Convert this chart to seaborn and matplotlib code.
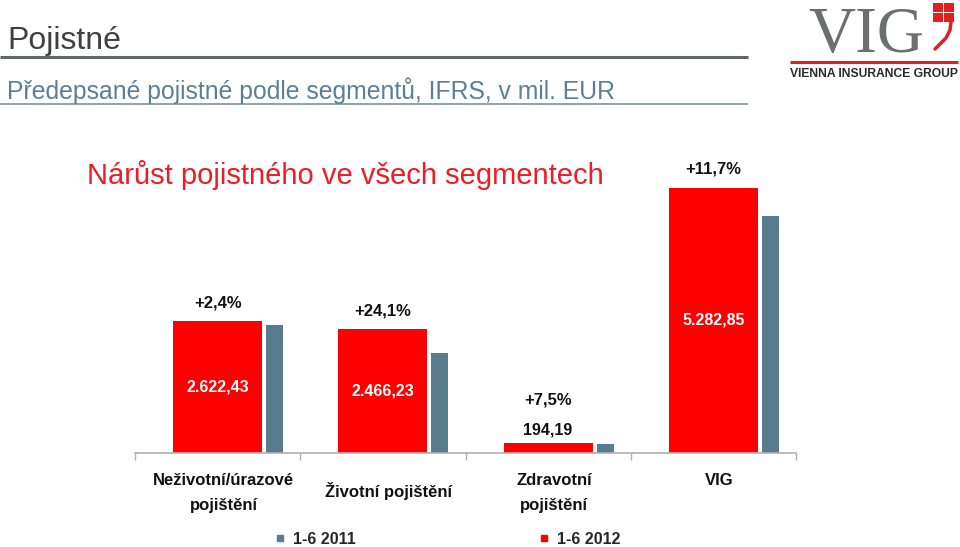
import matplotlib
matplotlib.use("Agg")
import matplotlib.pyplot as plt
from matplotlib.patches import Rectangle
from matplotlib.lines import Line2D
import numpy as np
import pandas as pd
import seaborn as sns

# ---- data ----
categories = ["Neživotní/úrazové\npojištění", "Životní pojištění", "Zdravotní\npojištění", "VIG"]
values_2012 = [2622.43, 2466.23, 194.19, 5282.85]
values_2011 = [2561.0, 1987.0, 180.6, 4729.0]
growth_labels = ["+2,4%", "+24,1%", "+7,5%", "+11,7%"]
series_labels = ["1-6 2011", "1-6 2012"]

RED = "#ff0000"
GRAY = "#587c8d"

sns.set_theme(style="white")
plt.rcParams["font.family"] = ["Liberation Sans", "DejaVu Sans"]

fig = plt.figure(figsize=(9.6, 5.47), dpi=100)
W, H = 960, 547

# header overlay (pixel coordinates)
ov = fig.add_axes([0, 0, 1, 1])
ov.set_xlim(0, W)
ov.set_ylim(H, 0)
ov.axis("off")

ax = fig.add_axes([135 / W, (H - 453) / H, 661 / W, 296 / H])
ax.patch.set_alpha(0)

df = pd.DataFrame({"cat": categories, "v": values_2012})
sns.barplot(data=df, x="cat", y="v", color=RED, width=0.54, ax=ax,
            saturation=1, linewidth=0)
x = np.arange(len(categories))
ax.bar(x + 0.345, values_2011, width=0.103, color=GRAY, linewidth=0)

ax.set_xlim(-0.5, len(categories) - 0.5)
ax.set_ylim(0, 5900)
ax.set_xlabel("")
ax.set_ylabel("")
ax.set_yticks([])
ax.set_xticks(np.arange(-0.5, len(categories), 1.0))
ax.set_xticklabels([])
ax.tick_params(axis="x", direction="out", length=5, width=1, color="#b0b0b0", bottom=True)
for s in ["top", "left", "right"]:
    ax.spines[s].set_visible(False)
ax.spines["bottom"].set_color("#b0b0b0")
ax.spines["bottom"].set_linewidth(1.2)

def czfmt(v):
    return f"{v:,.2f}".replace(",", " ").replace(".", ",").replace(" ", ".")

for i, (v, g) in enumerate(zip(values_2012, growth_labels)):
    if v > 1000:
        ax.text(i, v / 2, czfmt(v), ha="center", va="center", color="white",
                fontsize=11.5, fontweight="bold")
        ax.annotate(g, xy=(i, v), xytext=(0, 11), textcoords="offset pixels",
                    ha="center", va="bottom", fontsize=12, fontweight="bold", color="#111111")
    else:
        ax.annotate(czfmt(v), xy=(i, v), xytext=(0, 6), textcoords="offset pixels",
                    ha="center", va="bottom", fontsize=11.5, fontweight="bold", color="#111111")
        ax.annotate(g, xy=(i, v), xytext=(0, 36), textcoords="offset pixels",
                    ha="center", va="bottom", fontsize=12, fontweight="bold", color="#111111")

# category labels
for i, c in enumerate(categories):
    dy = -20 if "\n" in c or c == "VIG" else -29
    ax.annotate(c, xy=(i, 0), xycoords=("data", "axes fraction"), xytext=(6, dy),
                textcoords="offset pixels", ha="center", va="top", fontsize=12,
                fontweight="bold", color="#111111", linespacing=1.8)

# legend
handles = [Line2D([], [], marker="s", linestyle="none", markersize=4.5, color=GRAY),
           Line2D([], [], marker="s", linestyle="none", markersize=4.5, color=RED)]
fig.legend(handles, series_labels, loc="center", bbox_to_anchor=(448 / W, 1 - 539 / H),
           ncol=2, frameon=False, columnspacing=11.5, handlelength=0.6, handletextpad=0.5,
           prop={"weight": "bold", "size": 11.5})

ov.text(7, 41, "Pojistné", ha="left", va="center", fontsize=23, color="#404040")
ov.plot([0, 748], [57, 57], color="#5f666c", lw=2.2, solid_capstyle="butt")
ov.text(7, 91, "Předepsané pojistné podle segmentů, IFRS, v mil. EUR", ha="left",
        va="center", fontsize=17.8, color="#5b7f96")
ov.plot([0, 748], [104, 104], color="#7a93a5", lw=1.2, solid_capstyle="butt")
ov.text(87, 175, "Nárůst pojistného ve všech segmentech", ha="left", va="center",
        fontsize=21, color="#ee1c25")

# logo
ov.text(808, 52, "VIG", ha="left", va="baseline", fontsize=47, color="#6d6e71",
        family=["Liberation Serif", "DejaVu Serif"])
ov.plot([790, 958], [62, 62], color="#e0201f", lw=2.2, solid_capstyle="butt")
ov.text(874, 74, "VIENNA INSURANCE GROUP", ha="center", va="center", fontsize=8.7,
        color="#2a2a2a", fontweight="bold")
for (rx, ry) in [(933, 3), (944, 3), (933, 13), (944, 13)]:
    ov.add_patch(Rectangle((rx, ry), 9.5, 9, color="#e0201f", lw=0))
ov.plot([951, 950, 946, 940, 935], [22, 30, 38, 44, 49], color="#e0201f", lw=2.5,
        solid_capstyle="round")

fig.savefig("out.png", dpi=100)
